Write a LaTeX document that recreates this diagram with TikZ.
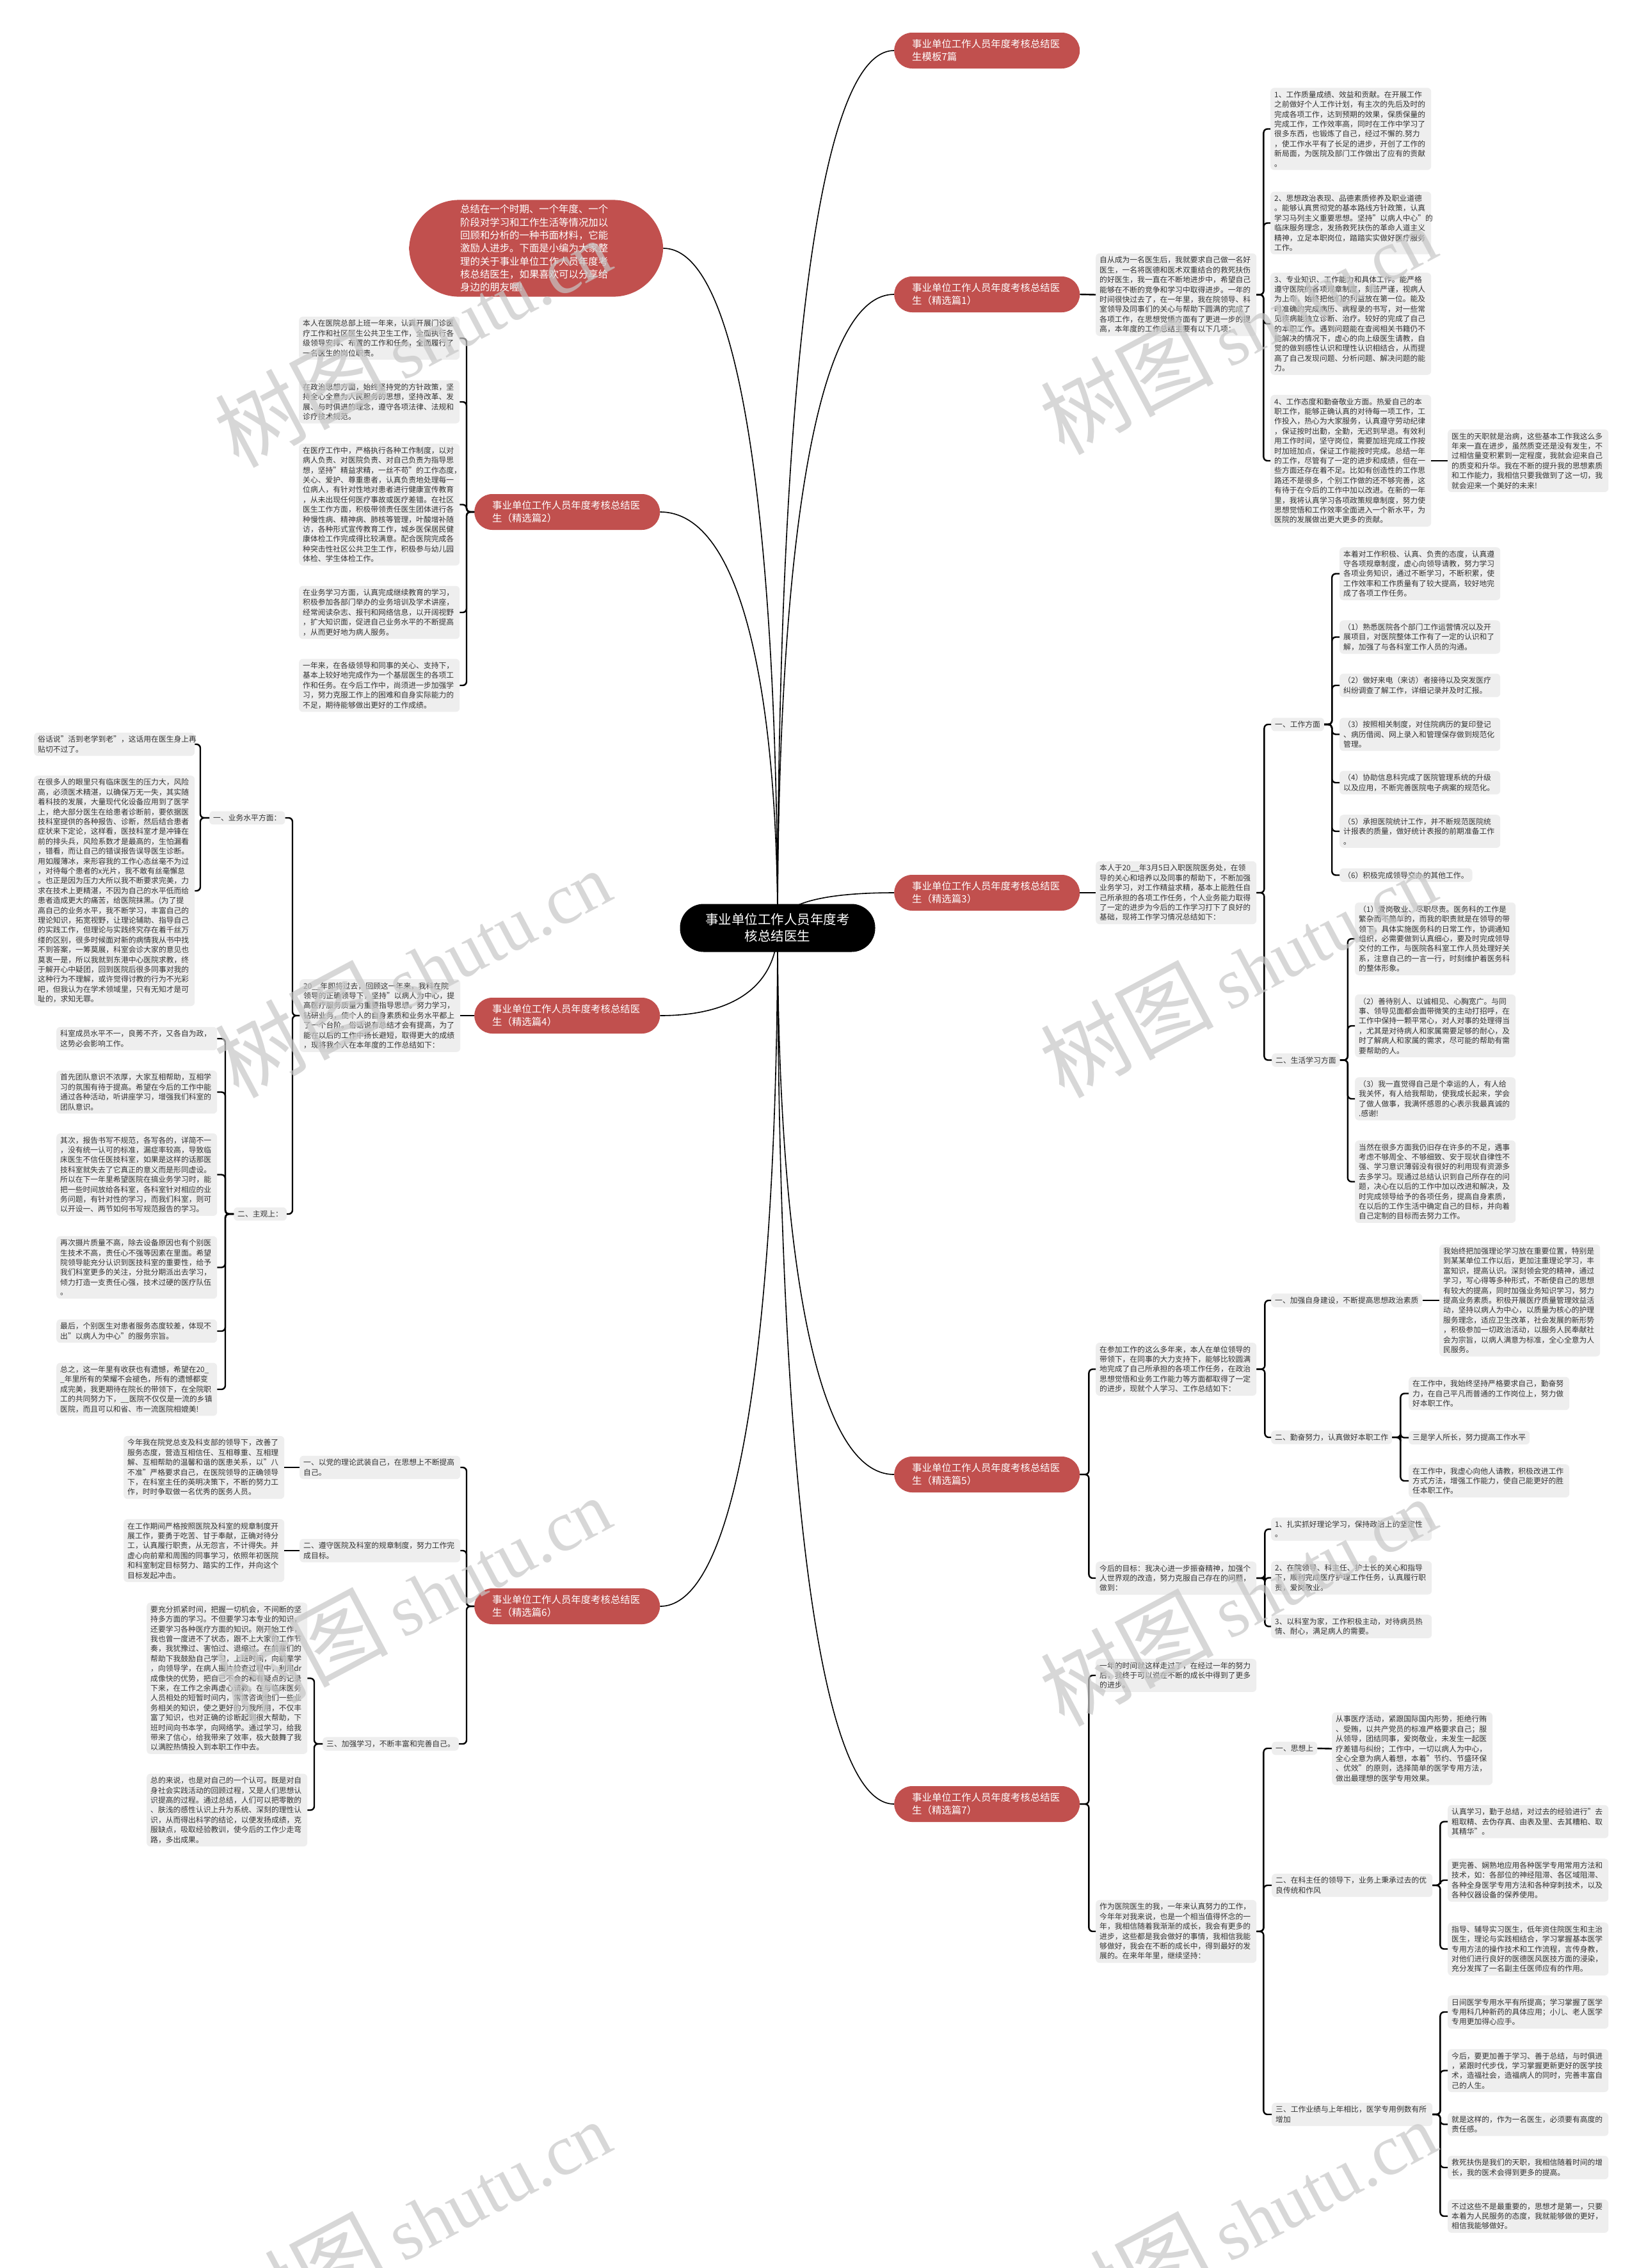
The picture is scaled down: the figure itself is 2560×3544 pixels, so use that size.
\documentclass[tikz,border=0pt]{standalone}
\usepackage{fontspec}
\setmainfont{Noto Sans CJK SC}
\newfontfamily\wmfont{Liberation Serif}
\usetikzlibrary{calc}
\definecolor{nodered}{HTML}{C1504E}
\definecolor{boxgray}{HTML}{EEEEEE}
\definecolor{txtgray}{HTML}{333333}
\pgfdeclarelayer{bg}
\pgfsetlayers{bg,main}
\tikzset{
  tbox/.style={fill=boxgray, rounded corners=6pt, inner xsep=6pt, inner ysep=5pt, align=left, anchor=west, text=txtgray, font=\fontsize{11.8}{15.4}\selectfont},
  tb/.style={tbox, text width=239pt},
  redn/.style={fill=nodered, text=white, rounded corners=28pt, inner xsep=28pt, inner ysep=8pt, align=left, anchor=west, text width=234pt, minimum height=56pt, font=\fontsize{15.4}{20}\selectfont},
  rootn/.style={fill=black, text=white, rounded corners=37pt, minimum width=305pt, minimum height=75pt, align=center, inner sep=0pt, font=\fontsize{20.5}{26}\selectfont},
  conn/.style={line width=2.4pt, rounded corners=6pt},
  mainc/.style={line width=1.6pt},
  wm/.style={rotate=28, text=black!22, text opacity=0.7, font=\fontsize{100}{100}\selectfont}
}
\newcommand\lkx[3]{\draw[conn] (#1.west) -- ++(-#3,0) |- (#2.east);}
\newcommand\rkx[3]{\draw[conn] (#1.east) -- ++(#3,0) |- (#2.west);}
\newcommand\wmtext{{\fontsize{135}{135}\selectfont 树图} {\wmfont\fontsize{112}{112}\selectfont shutu.cn}}
\begin{document}
\begin{tikzpicture}[x=1pt,y=-1pt]
\useasboundingbox (0,0) rectangle (2560,3544);
% ---------- root and branches ----------
\node[rootn] (root) at (1215,1450) {事业单位工作人员年度考\\核总结医生};
\node[redn] (bm) at (1397,79) {事业单位工作人员年度考核总结医\\生模板7篇};
\node[redn] (b1) at (1397,460) {事业单位工作人员年度考核总结医\\生（精选篇1）};
\node[redn] (b3) at (1397,1395) {事业单位工作人员年度考核总结医\\生（精选篇3）};
\node[redn] (b5) at (1397,2304) {事业单位工作人员年度考核总结医\\生（精选篇5）};
\node[redn] (b7) at (1397,2819) {事业单位工作人员年度考核总结医\\生（精选篇7）};
\node[redn] (b2) at (741,800) {事业单位工作人员年度考核总结医\\生（精选篇2）};
\node[redn] (b4) at (741,1587) {事业单位工作人员年度考核总结医\\生（精选篇4）};
\node[redn] (b6) at (741,2510) {事业单位工作人员年度考核总结医\\生（精选篇6）};
\node[redn, rounded corners=78pt, inner xsep=80pt, inner ysep=7.5pt, text width=237pt, font=\fontsize{15.4}{20.3}\selectfont] (sum) at (639,388) {总结在一个时期、一个年度、一个\\阶段对学习和工作生活等情况加以\\回顾和分析的一种书面材料，它能\\激励人进步。下面是小编为大家整\\理的关于事业单位工作人员年度考\\核总结医生，如果喜欢可以分享给\\身边的朋友喔!};
% ---------- main curves ----------
\begin{pgfonlayer}{bg}
\fill[white] (0,0) rectangle (2560,3544);
\draw[mainc] (root.center) .. controls (1215,760) and (1260,79) .. (bm.west);
\draw[mainc] (root.center) .. controls (1215,950) and (1260,460) .. (b1.west);
\draw[mainc] (root.center) .. controls (1215,1420) and (1260,1395) .. (b3.west);
\draw[mainc] (root.center) .. controls (1215,1882) and (1260,2304) .. (b5.west);
\draw[mainc] (root.center) .. controls (1215,2140) and (1260,2819) .. (b7.west);
\draw[mainc] (root.center) .. controls (1215,914) and (1170,388) .. (sum.east);
\draw[mainc] (root.center) .. controls (1215,1120) and (1168,800) .. (b2.east);
\draw[mainc] (root.center) .. controls (1215,1523) and (1168,1587) .. (b4.east);
\draw[mainc] (root.center) .. controls (1215,1985) and (1168,2510) .. (b6.east);
\end{pgfonlayer}
% ---------- branch 2 ----------
\node[tb] (b2a) at (467,528.5) {本人在医院总部上班一年来，认真开展门诊医\\疗工作和社区医生公共卫生工作，全面执行各\\级领导安排、布置的工作和任务，全面履行了\\一名医生的岗位职责。};
\node[tb] (b2b) at (467,628) {在政治思想方面，始终坚持党的方针政策，坚\\持全心全意为人民服务的思想，坚持改革、发\\展、与时俱进的理念，遵守各项法律、法规和\\诊疗技术规范。};
\node[tb] (b2c) at (467,788.5) {在医疗工作中，严格执行各种工作制度，以对\\病人负责、对医院负责、对自己负责为指导思\\想，坚持"精益求精，一丝不苟"的工作态度，\\关心、爱护、尊重患者，认真负责地处理每一\\位病人，有针对性地对患者进行健康宣传教育\\，从未出现任何医疗事故或医疗差错。在社区\\医生工作方面，积极带领责任医生团体进行各\\种慢性病、精神病、肺核等管理，叶酸增补随\\访，各种形式宣传教育工作，城乡医保居民健\\康体检工作完成得比较满意。配合医院完成各\\种突击性社区公共卫生工作，积极参与幼儿园\\体检、学生体检工作。};
\node[tb] (b2d) at (467,957) {在业务学习方面，认真完成继续教育的学习，\\积极参加各部门举办的业务培训及学术讲座，\\经常阅读杂志、报刊和网络信息，以开阔视野\\，扩大知识面，促进自己业务水平的不断提高\\，从而更好地为病人服务。};
\node[tb] (b2e) at (467,1071) {一年来，在各级领导和同事的关心、支持下，\\基本上较好地完成作为一个基层医生的各项工\\作和任务。在今后工作中，尚须进一步加强学\\习，努力克服工作上的困难和自身实际能力的\\不足，期待能够做出更好的工作成绩。};
\lkx{b2}{b2a}{12}\lkx{b2}{b2b}{12}\lkx{b2}{b2c}{12}\lkx{b2}{b2d}{12}\lkx{b2}{b2e}{12}
% ---------- branch 4 ----------
\node[tb] (b4i) at (468,1587) {20\_\_年即将过去，回顾这一年来，我科在院\\领导的正确领导下，坚持"以病人为中心，提\\高医疗服务质量为重要指导思想。努力学习，\\钻研业务，使个人的自身素质和业务水平都上\\了一个台阶。俗话说有总结才会有提高，为了\\能在以后的工作中扬长避短，取得更大的成绩\\，现将我个人在本年度的工作总结如下：};
\node[tbox] (b4x) at (327,1278) {一、业务水平方面：};
\node[tbox] (b4y) at (365,1897) {二、主观上：};
\node[tb] (b4x1) at (53,1163) {俗话说"活到老学到老"，这话用在医生身上再\\贴切不过了。};
\node[tb] (b4x2) at (53,1392) {在很多人的眼里只有临床医生的压力大，风险\\高，必须医术精湛，以确保万无一失，其实随\\着科技的发展，大量现代化设备应用到了医学\\上，绝大部分医生在给患者诊断前，要依据医\\技科室提供的各种报告、诊断，然后结合患者\\症状来下定论，这样看，医技科室才是冲锋在\\前的排头兵，风险系数才是最高的，生怕漏看\\，错看，而让自己的错误报告误导医生诊断。\\用如履薄冰，来形容我的工作心态丝毫不为过\\，对待每个患者的x光片，我不敢有丝毫懈怠\\。也正是因为压力大所以我不断要求完美，力\\求在技术上更精湛，不因为自己的水平低而给\\患者造成更大的痛苦，给医院抹黑。(为了提\\高自己的业务水平，我不断学习，丰富自己的\\理论知识，拓宽视野，让理论辅助、指导自己\\的实践工作，但理论与实践终究存在着千丝万\\缕的区别，很多时候面对新的病情我从书中找\\不到答案，一筹莫展，科室会诊大家的意见也\\莫衷一是，所以我就到东港中心医院求教，终\\于解开心中疑团，回到医院后很多同事对我的\\这种行为不理解，或许觉得讨教的行为不光彩\\吧，但我认为在学术领域里，只有无知才是可\\耻的，求知无罪。};
\node[tb] (b4y1) at (88,1623) {科室成员水平不一，良莠不齐，又各自为政，\\这势必会影响工作。};
\node[tb] (b4y2) at (88,1706.5) {首先团队意识不浓厚，大家互相帮助，互相学\\习的氛围有待于提高。希望在今后的工作中能\\通过各种活动，听讲座学习，增强我们科室的\\团队意识。};
\node[tb] (b4y3) at (88,1835.5) {其次，报告书写不规范，各写各的，详简不一\\，没有统一认可的标准，漏症率较高，导致临\\床医生不信任医技科室，如果是这样的话那医\\技科室就失去了它真正的意义而是形同虚设。\\所以在下一年里希望医院在搞业务学习时，能\\把一些时间放给各科室，各科室针对相应的业\\务问题，有针对性的学习，而我们科室，则可\\以开设一、两节如何书写规范报告的学习。};
\node[tb] (b4y4) at (88,1980.5) {再次摄片质量不高，除去设备原因也有个别医\\生技术不高，责任心不强等因素在里面。希望\\院领导能充分认识到医技科室的重要性，给予\\我们科室更多的关注，分批分期派出去学习，\\倾力打造一支责任心强，技术过硬的医疗队伍\\。};
\node[tb] (b4y5) at (88,2080) {最后，个别医生对患者服务态度较差，体现不\\出"以病人为中心"的服务宗旨。};
\node[tb] (b4y6) at (88,2171) {总之，这一年里有收获也有遗憾，希望在20\_\\\_年里所有的荣耀不会褪色，所有的遗憾都变\\成完美，我更期待在院长的带领下，在全院职\\工的共同努力下，\_\_医院不仅仅是一流的乡镇\\医院，而且可以和省、市一流医院相媲美!};
\draw[conn] (b4.west) -- (b4i.east);
\lkx{b4i}{b4x}{11}\lkx{b4i}{b4y}{11}
\lkx{b4x}{b4x1}{14}\lkx{b4x}{b4x2}{14}
\lkx{b4y}{b4y1}{13}\lkx{b4y}{b4y2}{13}\lkx{b4y}{b4y3}{13}\lkx{b4y}{b4y4}{13}\lkx{b4y}{b4y5}{13}\lkx{b4y}{b4y6}{13}
% ---------- branch 6 ----------
\node[tb] (b6a) at (468,2293) {一、以党的理论武装自己，在思想上不断提高\\自己。};
\node[tb] (b6a1) at (193,2293) {今年我在院党总支及科支部的领导下，改善了\\服务态度，营造互相信任、互相尊重、互相理\\解、互相帮助的温馨和谐的医患关系，以"八\\不准"严格要求自己，在医院领导的正确领导\\下，在科室主任的英明决策下，不断的努力工\\作，时时争取做一名优秀的医务人员。};
\node[tb] (b6b) at (468,2423) {二、遵守医院及科室的规章制度，努力工作完\\成目标。};
\node[tb] (b6b1) at (193,2423) {在工作期间严格按照医院及科室的规章制度开\\展工作，要勇于吃苦、甘于奉献，正确对待分\\工，认真履行职责，从无怨言，不计得失。并\\虚心向前辈和周围的同事学习，依照年初医院\\和科室制定目标努力、踏实的工作，并向这个\\目标发起冲击。};
\node[tbox] (b6c) at (504,2725) {三、加强学习，不断丰富和完善自己。};
\node[tb] (b6c1) at (229,2622.5) {要充分抓紧时间，把握一切机会，不间断的坚\\持多方面的学习。不但要学习本专业的知识，\\还要学习各种医疗方面的知识。刚开始工作，\\我也曾一度进不了状态，跟不上大家的工作节\\奏，我犹豫过、害怕过、退缩过。在前辈们的\\帮助下我鼓励自己学习，上班时间，向前辈学\\，向领导学，在病人摄片检查过程中，利用dr\\成像快的优势，把自己不会的和有疑点的记录\\下来，在工作之余再虚心请教。在与临床医务\\人员相处的短暂时间内，常常咨询他们一些业\\务相关的知识，使之更好的为我所用，不仅丰\\富了知识，也对正确的诊断起到很大帮助，下\\班时间向书本学，向网络学。通过学习，给我\\带来了信心，给我带来了效率，极大鼓舞了我\\以满腔热情投入到本职工作中去。};
\node[tb] (b6c2) at (229,2828.5) {总的来说，也是对自己的一个认可。既是对自\\身社会实践活动的回顾过程，又是人们思想认\\识提高的过程。通过总结，人们可以把零散的\\、肤浅的感性认识上升为系统、深刻的理性认\\识，从而得出科学的结论，以便发扬成绩，克\\服缺点，吸取经验教训，使今后的工作少走弯\\路，多出成果。};
\lkx{b6}{b6a}{12}\lkx{b6}{b6b}{12}\lkx{b6}{b6c}{12}
\draw[conn] (b6a.west) -- (b6a1.east);
\draw[conn] (b6b.west) -- (b6b1.east);
\lkx{b6c}{b6c1}{13}\lkx{b6c}{b6c2}{13}
% ---------- branch 1 ----------
\node[tb] (b1i) at (1712,460.5) {自从成为一名医生后，我就要求自己做一名好\\医生，一名将医德和医术双重结合的救死扶伤\\的好医生，我一直在不断地进步中，希望自己\\能够在不断的竞争和学习中取得进步。一年的\\时间很快过去了，在一年里，我在院领导、科\\室领导及同事们的关心与帮助下圆满的完成了\\各项工作，在思想觉悟方面有了更进一步的提\\高，本年度的工作总结主要有以下几项：};
\node[tb] (b1a) at (1985,201.5) {1、工作质量成绩、效益和贡献。在开展工作\\之前做好个人工作计划，有主次的先后及时的\\完成各项工作，达到预期的效果，保质保量的\\完成工作，工作效率高，同时在工作中学习了\\很多东西，也锻炼了自己，经过不懈的.努力\\，使工作水平有了长足的进步，开创了工作的\\新局面，为医院及部门工作做出了应有的贡献\\。};
\node[tb] (b1b) at (1985,348.5) {2、思想政治表现、品德素质修养及职业道德\\。能够认真贯彻党的基本路线方针政策，认真\\学习马列主义重要思想。坚持"以病人中心"的\\临床服务理念，发扬救死扶伤的革命人道主义\\精神，立足本职岗位，踏踏实实做好医疗服务\\工作。};
\node[tb] (b1c) at (1985,506) {3、专业知识、工作能力和具体工作。能严格\\遵守医院的各项规章制度，刻苦严谨，视病人\\为上帝，始终把他们的利益放在第一位。能及\\时准确的完成病历、病程录的书写，对一些常\\见疾病能独立诊断、治疗。较好的完成了自己\\的本职工作。遇到问题能在查阅相关书籍仍不\\能解决的情况下，虚心的向上级医生请教，自\\觉的做到感性认识和理性认识相结合，从而提\\高了自己发现问题、分析问题、解决问题的能\\力。};
\node[tb] (b1d) at (1985,720) {4、工作态度和勤奋敬业方面。热爱自己的本\\职工作，能够正确认真的对待每一项工作，工\\作投入，热心为大家服务，认真遵守劳动纪律\\，保证按时出勤，全勤，无迟到早退。有效利\\用工作时间，坚守岗位，需要加班完成工作按\\时加班加点，保证工作能按时完成。总结一年\\的工作，尽管有了一定的进步和成绩，但在一\\些方面还存在着不足。比如有创造性的工作思\\路还不是很多，个别工作做的还不够完善，这\\有待于在今后的工作中加以改进。在新的一年\\里，我将认真学习各项政策规章制度，努力使\\思想觉悟和工作效率全面进入一个新水平，为\\医院的发展做出更大更多的贡献。};
\node[tb] (b1s) at (2262,720) {医生的天职就是治病，这些基本工作我这么多\\年来一直在进步，虽然质变还是没有发生，不\\过相信量变积累到一定程度，我就会迎来自己\\的质变和升华。我在不断的提升我的思想素质\\和工作能力，我相信只要我做到了这一切，我\\就会迎来一个美好的未来!};
\draw[conn] (b1.east) -- (b1i.west);
\rkx{b1i}{b1a}{11}\rkx{b1i}{b1b}{11}\rkx{b1i}{b1c}{11}\rkx{b1i}{b1d}{11}
\draw[conn] (b1d.east) -- (b1s.west);
% ---------- branch 3 ----------
\node[tb] (b3i) at (1712,1395) {本人于20\_\_年3月5日入职医院医务处，在领\\导的关心和培养以及同事的帮助下，不断加强\\业务学习，对工作精益求精，基本上能胜任自\\己所承担的各项工作任务，个人业务能力取得\\了一定的进步为今后的工作学习打下了良好的\\基础，现将工作学习情况总结如下：};
\node[tbox] (b3x) at (1986,1132) {一、工作方面};
\node[tbox] (b3y) at (1987,1656.5) {二、生活学习方面};
\node[tb] (b3x1) at (2093,896.5) {本着对工作积极、认真、负责的态度，认真遵\\守各项规章制度，虚心向领导请教，努力学习\\各项业务知识，通过不断学习，不断积累，使\\工作效率和工作质量有了较大提高，较好地完\\成了各项工作任务。};
\node[tb] (b3x2) at (2093,995.5) {（1）熟悉医院各个部门工作运营情况以及开\\展项目，对医院整体工作有了一定的认识和了\\解，加强了与各科室工作人员的沟通。};
\node[tb] (b3x3) at (2093,1071) {（2）做好来电（来访）者接待以及突发医疗\\纠纷调查了解工作，详细记录并及时汇报。};
\node[tb] (b3x4) at (2093,1147.5) {（3）按照相关制度，对住院病历的复印登记\\、病历借阅、网上录入和管理保存做到规范化\\管理。};
\node[tb] (b3x5) at (2093,1223) {（4）协助信息科完成了医院管理系统的升级\\以及应用，不断完善医院电子病案的规范化。};
\node[tb] (b3x6) at (2093,1299) {（5）承担医院统计工作，并不断规范医院统\\计报表的质量，做好统计表报的前期准备工作\\。};
\node[tbox] (b3x7) at (2093,1367.5) {（6）积极完成领导交办的其他工作。};
\node[tb] (b3y1) at (2117,1467) {（1）爱岗敬业、尽职尽责。医务科的工作是\\繁杂而不简单的，而我的职责就是在领导的带\\领下，具体实施医务科的日常工作，协调通知\\组织，必需要做到认真细心，要及时完成领导\\交付的工作，与医院各科室工作人员处理好关\\系，注意自己的一言一行，时刻维护着医务科\\的整体形象。};
\node[tb] (b3y2) at (2117,1603) {（2）善待别人、以诚相见、心胸宽广。与同\\事、领导见面都会面带微笑的主动打招呼，在\\工作中保持一颗平常心，对人对事的处理得当\\，尤其是对待病人和家属需要足够的耐心，及\\时了解病人和家属的需求，尽可能的帮助有需\\要帮助的人。};
\node[tb] (b3y3) at (2117,1717) {（3）我一直觉得自己是个幸运的人，有人给\\我关怀，有人给我帮助，使我成长起来，学会\\了做人做事，我满怀感恩的心表示我最真诚的\\.感谢!};
\node[tb] (b3y4) at (2117,1846.5) {当然在很多方面我仍旧存在许多的不足，遇事\\考虑不够周全、不够细致、安于现状自律性不\\强、学习意识薄弱没有很好的利用现有资源多\\去多学习。现通过总结认识到自己所存在的问\\题，决心在以后的工作中加以改进和解决，及\\时完成领导给予的各项任务，提高自身素质，\\在以后的工作生活中确定自己的目标，并向着\\自己定制的目标而去努力工作。};
\draw[conn] (b3.east) -- (b3i.west);
\rkx{b3i}{b3x}{12}\rkx{b3i}{b3y}{12}
\rkx{b3x}{b3x1}{12}\rkx{b3x}{b3x2}{12}\rkx{b3x}{b3x3}{12}\rkx{b3x}{b3x4}{12}\rkx{b3x}{b3x5}{12}\rkx{b3x}{b3x6}{12}\rkx{b3x}{b3x7}{12}
\rkx{b3y}{b3y1}{12}\rkx{b3y}{b3y2}{12}\rkx{b3y}{b3y3}{12}\rkx{b3y}{b3y4}{12}
% ---------- branch 5 ----------
\node[tb] (b5i) at (1712,2139.5) {在参加工作的这么多年来，本人在单位领导的\\带领下，在同事的大力支持下，能够比较圆满\\地完成了自己所承担的各项工作任务，在政治\\思想觉悟和业务工作能力等方面都取得了一定\\的进步，现就个人学习、工作总结如下：};
\node[tb] (b5j) at (1712,2466) {今后的目标：我决心进一步振奋精神，加强个\\人世界观的改造，努力克服自己存在的问题，\\做到：};
\node[tbox] (b5x) at (1986,2032) {一、加强自身建设，不断提高思想政治素质};
\node[tb] (b5x1) at (2249,2032) {我始终把加强理论学习放在重要位置，特别是\\到某某单位工作以后，更加注重理论学习，丰\\富知识，提高认识。深刻领会党的精神，通过\\学习，写心得等多种形式，不断使自己的思想\\有较大的提高，同时加强业务知识学习，努力\\提高业务素质。积极开展医疗质量管理效益活\\动，坚持以病人为中心，以质量为核心的护理\\服务理念，适应卫生改革，社会发展的新形势\\，积极参加一切政治活动，以服务人民奉献社\\会为宗旨，以病人满意为标准，全心全意为人\\民服务。};
\node[tbox] (b5y) at (1986,2246) {二、勤奋努力，认真做好本职工作};
\node[tb] (b5y1) at (2201,2177.5) {在工作中，我始终坚持严格要求自己，勤奋努\\力，在自己平凡而普通的工作岗位上，努力做\\好本职工作。};
\node[tbox] (b5y2) at (2201,2246.5) {三是学人所长，努力提高工作水平};
\node[tb] (b5y3) at (2201,2314) {在工作中，我虚心向他人请教，积极改进工作\\方式方法，增强工作能力，使自己能更好的胜\\任本职工作。};
\node[tb] (b5j1) at (1986,2389.5) {1、扎实抓好理论学习，保持政治上的坚定性\\。};
\node[tb] (b5j2) at (1986,2465.5) {2、在院领导、科主任、护士长的关心和指导\\下，顺利完成医疗护理工作任务，认真履行职\\责，爱岗敬业。};
\node[tb] (b5j3) at (1986,2541.5) {3、以科室为家，工作积极主动，对待病员热\\情、耐心，满足病人的需要。};
\rkx{b5}{b5i}{14}\rkx{b5}{b5j}{14}
\rkx{b5i}{b5x}{13}\rkx{b5i}{b5y}{13}
\draw[conn] (b5x.east) -- (b5x1.west);
\rkx{b5y}{b5y1}{13}\rkx{b5y}{b5y2}{13}\rkx{b5y}{b5y3}{13}
\rkx{b5j}{b5j1}{13}\rkx{b5j}{b5j2}{13}\rkx{b5j}{b5j3}{13}
% ---------- branch 7 ----------
\node[tb] (b7i) at (1712,2618) {一年的时间就这样走过了，在经过一年的努力\\后，我终于可以说在不断的成长中得到了更多\\的进步。};
\node[tb] (b7j) at (1712,3018) {作为医院医生的我，一年来认真努力的工作，\\今年年对我来说，也是一个相当值得怀念的一\\年，我相信随着我渐渐的成长，我会有更多的\\进步，这些都是我会做好的事情，我相信我能\\够做好，我会在不断的成长中，得到最好的发\\展的。在来年年里，继续坚持：};
\node[tbox] (b7x) at (1987,2732) {一、思想上};
\node[tb] (b7x1) at (2081,2732.5) {从事医疗活动，紧跟国际国内形势，拒绝行贿\\、受贿，以共产党员的标准严格要求自己；服\\从领导，团结同事，爱岗敬业，未发生一起医\\疗差错与纠纷；工作中，一切以病人为中心，\\全心全意为病人着想，本着"节约、节盛环保\\、优效"的原则，选择简单的医学专用方法，\\做出最理想的医学专用效果。};
\node[tb] (b7y) at (1987,2946) {二、在科主任的领导下，业务上秉承过去的优\\良传统和作风};
\node[tb] (b7y1) at (2262,2846.5) {认真学习，勤于总结，对过去的经验进行"去\\粗取精、去伪存真、由表及里、去其糟粕、取\\其精华"。};
\node[tb] (b7y2) at (2262,2938) {更完善、娴熟地应用各种医学专用常用方法和\\技术，如：各部位的神经阻滞、各区域阻滞、\\各种全身医学专用方法和各种穿刺技术，以及\\各种仪器设备的保养使用。};
\node[tb] (b7y3) at (2262,3045.5) {指导、辅导实习医生，低年资住院医生和主治\\医生，理论与实践相结合，学习掌握基本医学\\专用方法的操作技术和工作流程，言传身教，\\对他们进行良好的医德医风医技方面的浸染，\\充分发挥了一名副主任医师应有的作用。};
\node[tb] (b7z) at (1987,3304) {三、工作业绩与上年相比，医学专用例数有所\\增加};
\node[tb] (b7z1) at (2262,3144) {日间医学专用水平有所提高；学习掌握了医学\\专用科几种新药的具体应用；小儿、老人医学\\专用更加得心应手。};
\node[tb] (b7z2) at (2262,3235.5) {今后，要更加善于学习、善于总结，与时俱进\\，紧跟时代步伐，学习掌握更新更好的医学技\\术，造福社会，造福病人的同时，完善丰富自\\己的人生。};
\node[tb] (b7z3) at (2262,3319.5) {就是这样的，作为一名医生，必须要有高度的\\责任感。};
\node[tb] (b7z4) at (2262,3387) {救死扶伤是我们的天职，我相信随着时间的增\\长，我的医术会得到更多的提高。};
\node[tb] (b7z5) at (2262,3463) {不过这些不是最重要的，思想才是第一，只要\\本着为人民服务的态度，我就能够做的更好，\\相信我能够做好。};
\rkx{b7}{b7i}{14}\rkx{b7}{b7j}{14}
\rkx{b7j}{b7x}{11}\rkx{b7j}{b7y}{11}\rkx{b7j}{b7z}{11}
\draw[conn] (b7x.east) -- (b7x1.west);
\rkx{b7y}{b7y1}{12}\rkx{b7y}{b7y2}{12}\rkx{b7y}{b7y3}{12}
\rkx{b7z}{b7z1}{12}\rkx{b7z}{b7z2}{12}\rkx{b7z}{b7z3}{12}\rkx{b7z}{b7z4}{12}\rkx{b7z}{b7z5}{12}
% ---------- watermarks ----------
\node[wm] (wm1) at (644,530) {\wmtext};
\node[wm] (wm2) at (644,1515) {\wmtext};
\node[wm] (wm3) at (644,2495) {\wmtext};
\node[wm] (wm4) at (644,3470) {\wmtext};
\node[wm] (wm5) at (1934,510) {\wmtext};
\node[wm] (wm6) at (1934,1515) {\wmtext};
\node[wm] (wm7) at (1934,2497) {\wmtext};
\node[wm] (wm8) at (1934,3470) {\wmtext};
\end{tikzpicture}
\end{document}
